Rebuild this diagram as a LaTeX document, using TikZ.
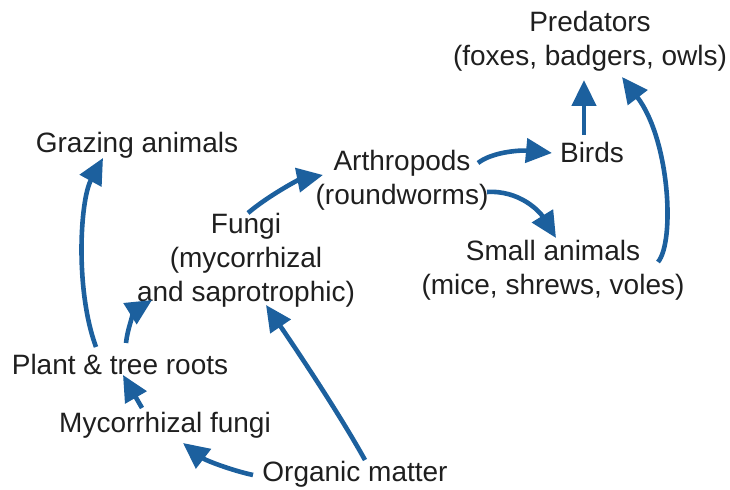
\documentclass[tikz,border=0pt]{standalone}
\usepackage{fontspec}
\setmainfont{Liberation Sans}
\usetikzlibrary{arrows.meta}
\definecolor{flow}{RGB}{28,96,158}
\colorlet{ink}{black!88}
\tikzset{
  taxon/.style ={font=\fontsize{14}{17}\selectfont, text=ink,
                 align=center, inner sep=0pt},
  feed/.style  ={-{Triangle[length=13pt, width=12pt]}, flow,
                 line width=2.3pt},
}

\begin{document}
\begin{tikzpicture}[x=0.5pt, y=-0.5pt]
\useasboundingbox (0,0) rectangle (730,490);

% food web members
\node[taxon] (pred)    at (590, 41) {Predators\\(foxes, badgers, owls)};
\node[taxon] (graze)   at (137,145) {Grazing animals};
\node[taxon] (arth)    at (402,180) {Arthropods\\(roundworms)};
\node[taxon] (birds)   at (592,153) {Birds};
\node[taxon] (fungi)   at (246,260) {Fungi\\(mycorrhizal\\and saprotrophic)};
\node[taxon] (small)   at (553,270) {Small animals\\(mice, shrews, voles)};
\node[taxon] (roots)   at (120,365) {Plant \& tree roots};
\node[taxon] (myco)    at (165,425) {Mycorrhizal fungi};
\node[taxon] (organic) at (355,474) {Organic matter};

% who feeds whom
\draw[feed] ([shift={(-24,-18)}]roots.center)
  .. controls +(-21,-57) and +(-23,42) .. ([shift={(-34,13)}]graze.center);
\draw[feed] ([shift={(6,-22)}]roots.center)
  .. controls +(2,-18) and +(-16,10) .. ([shift={(-94,40)}]fungi.center);
\draw[feed] ([shift={(-23,-17)}]myco.center) -- ([shift={(3,10)}]roots.center);
\draw[feed] ([shift={(-102,1)}]organic.center)
  .. controls +(-23,-5) and +(22,17) .. ([shift={(18,18)}]myco.center);
\draw[feed] ([shift={(10,-14)}]organic.center)
  .. controls +(-25,-45) and +(34,50) .. ([shift={(20,45)}]fungi.center);
\draw[feed] ([shift={(2,-47)}]fungi.center)
  .. controls +(20,-17) and +(-25,5) .. ([shift={(-79,-5)}]arth.center);
\draw[feed] ([shift={(76,-17)}]arth.center)
  .. controls +(14,-11) and +(-32,-3) .. ([shift={(-40,0)}]birds.center);
\draw[feed] ([shift={(85,12)}]arth.center)
  .. controls +(33,-2) and +(-16,-26) .. ([shift={(3,-32)}]small.center);
\draw[feed] ([shift={(-8,-18)}]birds.center) -- ([shift={(-6,39)}]pred.center);
\draw[feed] ([shift={(105,-8)}]small.center)
  .. controls +(17,-20) and +(48,63) .. ([shift={(32,36)}]pred.center);

\end{tikzpicture}
\end{document}
